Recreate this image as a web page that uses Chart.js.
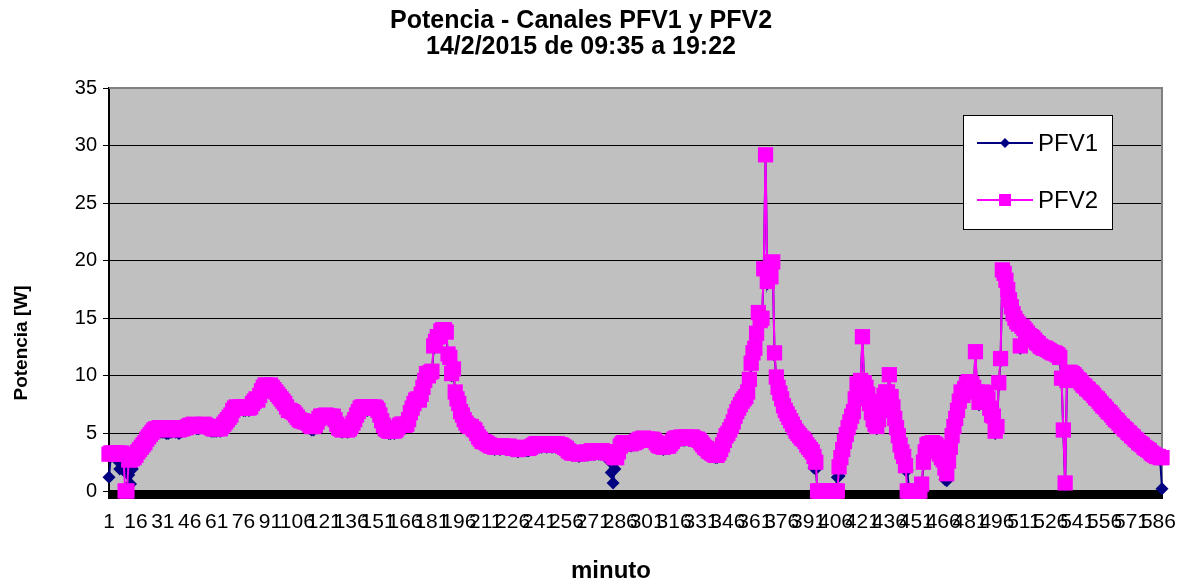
<!DOCTYPE html>
<html>
<head>
<meta charset="utf-8">
<title>Potencia - Canales PFV1 y PFV2</title>
<script src="https://cdn.jsdelivr.net/npm/chart.js"></script>
<style>
  html, body { margin: 0; padding: 0; background: #fff; }
  #grafico { display: block; }
</style>
</head>
<body>
<canvas id="grafico" width="1180" height="582"></canvas>
<script>
// minutos 1..588 (09:35 a 19:22)
var minutos = [];
for (var m = 1; m <= 588; m++) { minutos.push(m); }

var pasoEtiqueta = 15; // una etiqueta cada 15 minutos: 1, 16, 31 ... 586
var ticksY = [0, 5, 10, 15, 20, 25, 30, 35];

var pfv1 = [
	1.2,3.0,3.1,3.1,3.2,2.6,1.9,2.0,1.8,2.0,1.9,1.4,0.6,1.9,2.7,3.0,3.3,3.5,3.7,3.9,
	4.0,4.3,4.5,4.7,4.9,5.0,5.1,5.1,5.2,5.1,5.1,5.1,5.0,5.0,5.1,5.1,5.2,5.1,5.1,5.0,
	5.1,5.2,5.3,5.3,5.4,5.5,5.5,5.5,5.5,5.4,5.4,5.5,5.5,5.6,5.5,5.4,5.3,5.2,5.2,5.2,
	5.2,5.3,5.2,5.4,5.6,5.8,6.0,6.2,6.4,6.8,7.0,7.1,7.0,7.1,7.1,7.0,7.0,7.1,7.0,7.1,
	7.4,7.6,7.7,7.6,8.1,8.5,8.8,9.0,9.0,8.9,9.0,8.8,8.6,8.4,8.2,8.0,7.8,7.6,7.4,7.1,
	6.8,6.8,6.7,6.6,6.4,6.2,6.0,5.9,5.9,5.8,5.8,5.6,5.4,5.3,5.3,5.5,5.8,6.1,6.3,6.3,
	6.3,6.4,6.3,6.3,6.2,6.3,6.0,5.6,5.3,5.2,5.1,5.2,5.3,5.1,5.2,5.4,5.7,6.0,6.4,6.7,
	7.0,7.1,7.1,7.1,7.0,7.1,7.1,7.0,7.1,7.0,6.8,6.4,5.9,5.5,5.2,5.1,5.0,5.0,5.1,5.0,
	5.1,5.3,5.5,5.6,5.6,5.5,5.6,6.0,6.6,7.0,7.4,7.7,7.8,7.7,8.2,8.8,9.4,10.0,9.8,10.1,
	10.2,12.4,12.8,13.2,13.2,13.7,13.8,13.8,13.6,11.7,11.4,10.0,10.4,8.4,7.8,7.4,6.7,6.4,6.0,5.7,
	5.5,5.4,5.4,5.2,5.1,4.8,4.5,4.3,4.1,4.1,4.0,3.9,3.8,3.7,3.7,3.6,3.7,3.7,3.6,3.7,
	3.7,3.6,3.6,3.7,3.6,3.5,3.5,3.5,3.4,3.5,3.5,3.5,3.6,3.5,3.5,3.6,3.7,3.8,3.9,3.9,
	3.9,3.8,3.9,3.9,3.8,3.9,3.9,3.8,3.9,3.8,3.9,3.8,3.8,3.7,3.6,3.5,3.3,3.2,3.1,3.1,
	3.1,3.1,3.0,3.1,3.1,3.1,3.2,3.1,3.2,3.3,3.2,3.2,3.3,3.2,3.2,3.3,3.2,3.2,3.1,2.6,
	1.6,0.7,1.9,2.7,3.2,3.7,3.9,4.0,3.9,4.0,4.0,3.9,4.0,4.0,4.1,4.2,4.3,4.3,4.4,4.3,
	4.3,4.3,4.2,4.3,4.2,4.0,3.8,3.7,3.7,3.6,3.7,3.7,3.7,3.9,4.1,4.3,4.4,4.4,4.4,4.5,
	4.4,4.4,4.5,4.4,4.4,4.5,4.4,4.3,4.3,4.2,4.0,3.8,3.6,3.5,3.3,3.2,3.1,3.0,2.9,2.9,
	3.1,3.4,3.8,4.2,4.6,4.8,5.1,5.4,5.8,6.3,6.7,7.0,7.3,7.6,7.8,8.0,8.4,9.5,10.9,11.8,
	12.2,13.5,15.3,14.6,14.8,19.1,29.0,18.0,18.8,18.4,19.7,11.8,9.7,8.8,8.3,7.8,7.2,6.8,6.5,6.2,
	5.9,5.6,5.3,5.0,4.8,4.6,4.4,4.3,4.1,3.8,3.6,3.4,3.2,2.0,1.9,0.0,0.0,0.0,0.0,0.0,
	0.0,0.0,0.0,0.0,0.0,0.0,1.2,1.3,2.7,3.4,4.1,4.7,5.3,5.8,6.3,6.7,7.8,9.1,9.0,9.4,
	13.2,9.2,8.8,8.2,7.4,6.6,6.0,5.6,5.4,6.0,6.8,7.6,8.1,8.4,8.4,9.9,8.0,7.1,6.1,5.3,
	4.6,3.8,3.2,2.4,1.8,1.8,0.0,0.0,0.0,0.0,0.0,0.0,0.0,0.4,2.3,3.2,3.8,3.9,3.9,4.0,
	3.9,3.8,3.4,3.0,2.7,2.5,1.0,0.9,2.4,3.6,4.6,5.4,6.1,6.8,7.6,8.4,8.1,8.7,9.1,9.3,
	9.3,9.1,8.8,11.9,8.4,7.5,8.0,8.4,8.3,8.3,7.8,7.0,6.4,6.3,5.0,5.4,9.2,11.3,19.0,18.7,
	18.1,17.3,16.4,15.8,15.2,14.8,14.5,14.3,12.4,14.1,13.9,13.7,13.5,13.3,13.2,13.1,12.9,12.7,12.6,12.4,
	12.3,12.2,12.2,12.1,12.0,11.9,11.8,11.8,11.7,11.6,11.4,9.6,5.1,0.5,9.4,10.1,10.1,10.0,9.9,9.7,
	9.5,9.4,9.2,9.0,8.9,8.7,8.6,8.4,8.3,8.1,7.9,7.8,7.6,7.4,7.2,7.1,6.9,6.7,6.6,6.4,
	6.2,6.0,5.9,5.7,5.5,5.4,5.2,5.1,4.9,4.8,4.6,4.5,4.3,4.2,4.0,3.9,3.8,3.6,3.5,3.4,
	3.3,3.1,3.0,2.9,2.8,2.8,2.7,0.2
];

var pfv2 = [
	3.2,3.3,3.3,3.2,3.3,3.3,3.2,3.3,3.2,0.0,0.0,2.7,2.7,2.8,2.9,3.1,3.4,3.6,3.8,4.0,
	4.2,4.5,4.7,4.9,5.1,5.3,5.4,5.4,5.5,5.4,5.4,5.5,5.4,5.3,5.4,5.4,5.5,5.4,5.4,5.3,
	5.4,5.4,5.5,5.5,5.6,5.7,5.7,5.8,5.7,5.7,5.6,5.7,5.7,5.8,5.7,5.6,5.6,5.5,5.4,5.4,
	5.4,5.5,5.4,5.6,5.8,6.0,6.2,6.4,6.6,7.0,7.2,7.3,7.2,7.3,7.3,7.2,7.2,7.3,7.2,7.3,
	7.6,7.8,8.0,7.9,8.3,8.7,9.0,9.2,9.2,9.1,9.2,9.0,8.8,8.6,8.4,8.2,8.0,7.8,7.6,7.3,
	7.0,7.0,6.9,6.8,6.6,6.4,6.2,6.1,6.1,6.0,6.0,5.9,5.7,5.6,5.6,5.7,6.0,6.3,6.5,6.5,
	6.5,6.6,6.5,6.5,6.4,6.5,6.2,5.8,5.5,5.4,5.3,5.4,5.5,5.3,5.4,5.6,5.9,6.2,6.6,6.9,
	7.2,7.3,7.3,7.3,7.2,7.3,7.3,7.2,7.3,7.2,7.0,6.6,6.1,5.7,5.4,5.3,5.2,5.2,5.3,5.2,
	5.3,5.5,5.7,5.8,5.8,5.7,5.8,6.2,6.8,7.2,7.6,7.9,8.0,7.9,8.4,9.0,9.6,10.2,10.0,10.3,
	10.4,12.6,13.0,13.4,13.4,13.9,14.0,14.0,13.8,11.9,11.6,10.2,10.6,8.6,8.0,7.6,6.9,6.6,6.2,5.9,
	5.7,5.6,5.6,5.4,5.3,5.0,4.7,4.5,4.3,4.3,4.2,4.1,4.0,3.9,3.9,3.8,3.9,3.9,3.8,3.9,
	3.9,3.8,3.8,3.9,3.8,3.7,3.7,3.7,3.6,3.7,3.7,3.7,3.8,3.7,3.7,3.8,3.9,4.0,4.1,4.1,
	4.1,4.0,4.1,4.1,4.0,4.1,4.1,4.0,4.1,4.0,4.1,4.0,4.0,3.9,3.8,3.7,3.5,3.4,3.3,3.3,
	3.3,3.3,3.2,3.3,3.3,3.3,3.4,3.3,3.4,3.5,3.4,3.4,3.5,3.4,3.4,3.5,3.4,3.4,3.3,3.3,
	3.2,3.0,2.9,2.9,3.4,3.9,4.1,4.2,4.1,4.2,4.2,4.1,4.2,4.2,4.3,4.4,4.5,4.5,4.6,4.5,
	4.5,4.5,4.4,4.5,4.4,4.2,4.0,3.9,3.9,3.8,3.9,3.9,3.9,4.1,4.3,4.5,4.6,4.6,4.6,4.7,
	4.6,4.6,4.7,4.6,4.6,4.7,4.6,4.5,4.5,4.4,4.2,4.0,3.8,3.7,3.5,3.4,3.3,3.2,3.1,3.1,
	3.3,3.6,4.0,4.4,4.8,5.0,5.3,5.6,6.0,6.5,6.9,7.2,7.5,7.8,8.0,8.2,8.6,9.7,11.1,12.0,
	12.4,13.7,15.5,14.8,15.0,19.3,29.2,18.2,19.0,18.6,19.9,12.0,9.9,9.0,8.5,8.0,7.4,7.0,6.7,6.4,
	6.1,5.8,5.5,5.2,5.0,4.8,4.6,4.5,4.3,4.0,3.8,3.6,3.4,3.0,2.5,0.0,0.0,0.0,0.0,0.0,
	0.0,0.0,0.0,0.0,0.0,0.0,0.0,2.1,2.9,3.6,4.3,4.9,5.5,6.0,6.5,6.9,8.0,9.3,9.2,9.6,
	13.4,9.4,9.0,8.4,7.6,6.8,6.2,5.8,5.6,6.2,7.0,7.8,8.3,8.6,8.6,10.1,8.2,7.3,6.3,5.5,
	4.8,4.0,3.4,3.0,2.2,0.0,0.0,0.0,0.0,0.0,0.0,0.0,0.0,0.6,2.5,3.4,4.0,4.1,4.1,4.2,
	4.1,4.0,3.6,3.2,2.9,2.7,2.0,1.5,2.6,3.8,4.8,5.6,6.3,7.0,7.8,8.6,8.3,8.9,9.3,9.5,
	9.5,9.3,9.0,12.1,8.6,7.7,8.2,8.6,8.5,8.5,8.0,7.2,6.6,6.5,5.2,5.6,9.4,11.5,19.2,18.9,
	18.3,17.5,16.6,16.0,15.4,15.0,14.7,14.5,12.6,14.3,14.1,13.9,13.7,13.5,13.4,13.3,13.1,12.9,12.8,12.6,
	12.5,12.4,12.4,12.3,12.2,12.1,12.0,12.0,11.9,11.8,11.6,9.8,5.3,0.7,9.6,10.3,10.3,10.2,10.1,9.9,
	9.7,9.6,9.4,9.2,9.1,8.9,8.8,8.6,8.5,8.3,8.1,8.0,7.8,7.6,7.4,7.3,7.1,6.9,6.8,6.6,
	6.4,6.2,6.1,5.9,5.7,5.6,5.4,5.3,5.1,5.0,4.8,4.7,4.5,4.4,4.2,4.1,4.0,3.8,3.7,3.6,
	3.5,3.3,3.2,3.1,3.0,3.0,2.9,2.9
];

var FUENTE = '"Liberation Sans", Arial, sans-serif';
Chart.defaults.font.family = FUENTE;
Chart.defaults.color = '#000';

// fondo gris del area de trazado y borde gris arriba/derecha
var fondoPlugin = {
	id: 'fondo',
	beforeDraw: function(chart) {
		var ctx = chart.ctx, a = chart.chartArea;
		ctx.save();
		ctx.fillStyle = '#fff';
		ctx.fillRect(0, 0, chart.width, chart.height);
		ctx.fillStyle = '#C0C0C0';
		ctx.fillRect(a.left, a.top, a.right - a.left, a.bottom - a.top);
		ctx.restore();
	},
	beforeDatasetsDraw: function(chart) {
		var ctx = chart.ctx, a = chart.chartArea;
		ctx.save();
		ctx.strokeStyle = '#808080';
		ctx.lineWidth = 2;
		ctx.beginPath();
		ctx.moveTo(a.left, a.top);
		ctx.lineTo(a.right, a.top);
		ctx.lineTo(a.right, a.bottom);
		ctx.stroke();
		ctx.restore();
	}
};

// titulos de los ejes
var titulosEjes = {
	id: 'titulosEjes',
	afterDraw: function(chart) {
		var ctx = chart.ctx;
		ctx.save();
		ctx.fillStyle = '#000';
		ctx.textAlign = 'center';
		ctx.textBaseline = 'middle';
		ctx.font = 'bold 24px ' + FUENTE;
		ctx.fillText('minuto', 611, 571);
		ctx.translate(22, 343);
		ctx.rotate(-Math.PI / 2);
		ctx.font = 'bold 19px ' + FUENTE;
		ctx.fillText('Potencia [W]', 0, 0);
		ctx.restore();
	}
};

// leyenda dentro del area de trazado
var leyendaPlugin = {
	id: 'leyenda',
	afterDraw: function(chart) {
		var ctx = chart.ctx;
		var filas = [143, 200];
		ctx.save();
		ctx.fillStyle = '#fff';
		ctx.fillRect(963, 115, 149, 114);
		ctx.strokeStyle = '#000';
		ctx.lineWidth = 1;
		ctx.strokeRect(963.5, 115.5, 149, 114);
		chart.data.datasets.forEach(function(ds, k) {
			var y = filas[k];
			ctx.strokeStyle = ds.borderColor;
			ctx.lineWidth = 2;
			ctx.beginPath();
			ctx.moveTo(977, y);
			ctx.lineTo(1033, y);
			ctx.stroke();
			ctx.fillStyle = ds.backgroundColor;
			ctx.beginPath();
			if (ds.pointStyle === 'rect') {
				ctx.rect(999, y - 6, 12, 12);
			} else {
				ctx.moveTo(1005, y - 5);
				ctx.lineTo(1010, y);
				ctx.lineTo(1005, y + 5);
				ctx.lineTo(1000, y);
				ctx.closePath();
			}
			ctx.fill();
			ctx.fillStyle = '#000';
			ctx.font = '24px ' + FUENTE;
			ctx.textAlign = 'left';
			ctx.textBaseline = 'middle';
			ctx.fillText(ds.label, 1038, y + 1);
		});
		ctx.restore();
	}
};

var ctx = document.getElementById('grafico').getContext('2d');
var grafico = new Chart(ctx, {
	type: 'line',
	data: {
		labels: minutos,
		datasets: [
			{
				label: 'PFV1',
				data: pfv1,
				borderColor: '#000080',
				backgroundColor: '#000080',
				borderWidth: 2,
				pointStyle: 'rectRot',
				pointRadius: 6.5,
				pointBorderWidth: 0,
				tension: 0,
				clip: false,
				order: 1
			},
			{
				label: 'PFV2',
				data: pfv2,
				borderColor: '#FF00FF',
				backgroundColor: '#FF00FF',
				borderWidth: 2,
				pointStyle: 'rect',
				pointRadius: 10.8,
				pointBorderWidth: 0,
				tension: 0,
				clip: false,
				order: 0
			}
		]
	},
	options: {
		responsive: false,
		animation: false,
		devicePixelRatio: 1,
		layout: { padding: { left: 0, right: 18, top: 0, bottom: 0 } },
		plugins: {
			legend: { display: false },
			tooltip: { enabled: false },
			title: {
				display: true,
				text: ['Potencia - Canales PFV1 y PFV2', '14/2/2015 de 09:35 a 19:22'],
				color: '#000',
				font: { size: 25, weight: 'bold', lineHeight: 1.05 },
				padding: { top: 8, bottom: 27.5 }
			}
		},
		scales: {
			x: {
				type: 'category',
				ticks: {
					autoSkip: false,
					maxRotation: 0,
					minRotation: 0,
					padding: 11,
					color: '#000',
					font: { size: 21 },
					callback: function(val, index) {
						return index % pasoEtiqueta === 0 ? this.getLabelForValue(val) : '';
					}
				},
				grid: { drawOnChartArea: false, tickLength: 8, color: '#000', lineWidth: 2 },
				border: { color: '#000', width: 3 },
				afterFit: function(s) { s.height = 91; }
			},
			y: {
				min: ticksY[0],
				max: ticksY[ticksY.length - 1],
				ticks: { stepSize: 5, padding: 6, color: '#000', font: { size: 20 } },
				grid: { color: '#000', lineWidth: 1, tickLength: 6, tickColor: '#000' },
				border: { color: '#000', width: 2 },
				afterFit: function(s) { s.width = 109; }
			}
		}
	},
	plugins: [fondoPlugin, titulosEjes, leyendaPlugin]
});
</script>
</body>
</html>
